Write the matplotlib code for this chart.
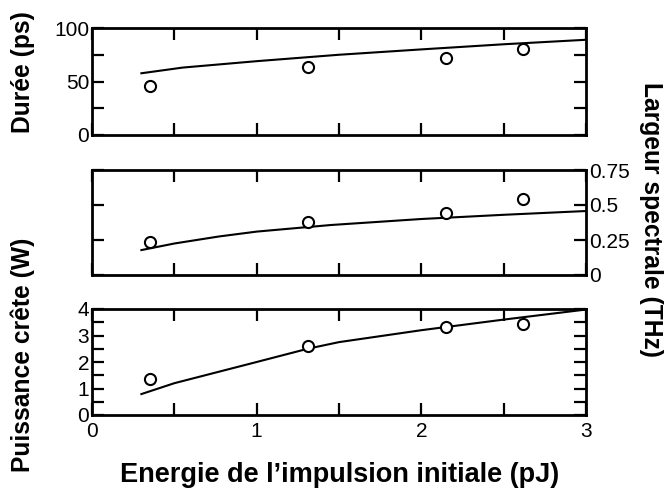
import matplotlib
matplotlib.use("Agg")
import matplotlib.pyplot as plt
from matplotlib.ticker import MultipleLocator, FuncFormatter

plt.rcParams['font.family'] = ['Liberation Sans', 'DejaVu Sans']

# Experimental points
x_exp = [0.35, 1.31, 2.15, 2.62]
duree_exp = [45.8, 63.8, 72.2, 80.1]
largeur_exp = [0.234, 0.379, 0.44, 0.543]
puissance_exp = [1.35, 2.6, 3.31, 3.43]

# Simulation curves
x_sim_duree = [0.3, 0.55, 1.0, 1.5, 2.0, 2.5, 3.0]
duree_sim = [57.7, 63.0, 69.0, 75.0, 80.0, 84.8, 89.0]
x_sim_largeur = [0.3, 0.5, 0.77, 1.0, 1.45, 2.0, 2.5, 3.0]
largeur_sim = [0.178, 0.225, 0.275, 0.31, 0.357, 0.40, 0.43, 0.457]
x_sim_puissance = [0.3, 0.5, 1.0, 1.31, 1.5, 2.0, 2.5, 3.0]
puissance_sim = [0.79, 1.2, 2.0, 2.5, 2.75, 3.2, 3.6, 3.98]

xlabel = "Energie de l\u2019impulsion initiale (pJ)"
ylabel_top = "Durée (ps)"
ylabel_mid = "Largeur spectrale (THz)"
ylabel_bot = "Puissance crête (W)"

W, H = 665, 488
fig = plt.figure(figsize=(W / 100, H / 100), dpi=100)

L, R = 92, 586
def mk(top, bot):
    return fig.add_axes([L / W, 1 - bot / H, (R - L) / W, (bot - top) / H])

ax1 = mk(28, 135)
ax2 = mk(170, 275)
ax3 = mk(309, 415)

TICK = 15
for ax in (ax1, ax2, ax3):
    ax.set_xlim(0, 3)
    ax.xaxis.set_major_locator(MultipleLocator(0.5))
    for s in ax.spines.values():
        s.set_linewidth(2.0)
    ax.tick_params(direction='in', length=8.5, width=1.6, top=True, right=True,
                   labelsize=TICK, pad=2)
    ax.tick_params(axis='x', pad=5)

def intfmt(v, p):
    if abs(v - round(v)) < 1e-6:
        return "%d" % round(v)
    return ""

# Top panel
ax1.plot(x_sim_duree, duree_sim, color='black', lw=1.5)
ax1.plot(x_exp, duree_exp, 'o', mfc='white', mec='black', ms=8, mew=1.5)
ax1.set_ylim(0, 100)
ax1.yaxis.set_major_locator(MultipleLocator(25))
ax1.yaxis.set_major_formatter(FuncFormatter(lambda v, p: "%d" % v if v % 50 == 0 else ""))
ax1.tick_params(axis='x', labelbottom=False)

# Middle panel
ax2.plot(x_sim_largeur, largeur_sim, color='black', lw=1.5)
ax2.plot(x_exp, largeur_exp, 'o', mfc='white', mec='black', ms=8, mew=1.5)
ax2.set_ylim(0, 0.75)
ax2.yaxis.set_major_locator(MultipleLocator(0.25))
ax2.yaxis.set_major_formatter(FuncFormatter(lambda v, p: "0" if v == 0 else ("%g" % v)))
ax2.tick_params(axis='y', labelleft=False, labelright=True)
ax2.tick_params(axis='x', labelbottom=False)

# Bottom panel
ax3.plot(x_sim_puissance, puissance_sim, color='black', lw=1.5)
ax3.plot(x_exp, puissance_exp, 'o', mfc='white', mec='black', ms=8, mew=1.5)
ax3.set_ylim(0, 4)
ax3.yaxis.set_major_locator(MultipleLocator(0.5))
ax3.yaxis.set_major_formatter(FuncFormatter(intfmt))
ax3.xaxis.set_major_formatter(FuncFormatter(intfmt))

LAB = 17.7
fig.text(23 / W, 1 - 72 / H, ylabel_top, rotation=90, ha='center', va='center',
         fontsize=LAB, fontweight='bold')
fig.text(23 / W, 1 - 355 / H, ylabel_bot, rotation=90, ha='center', va='center',
         fontsize=LAB, fontweight='bold')
fig.text(651 / W, 1 - 220 / H, ylabel_mid, rotation=270, ha='center', va='center',
         fontsize=LAB, fontweight='bold')
fig.text(340 / W, 1 - 482 / H, xlabel, ha='center', va='baseline',
         fontsize=19.5, fontweight='bold')

fig.savefig("out.png", dpi=100)
